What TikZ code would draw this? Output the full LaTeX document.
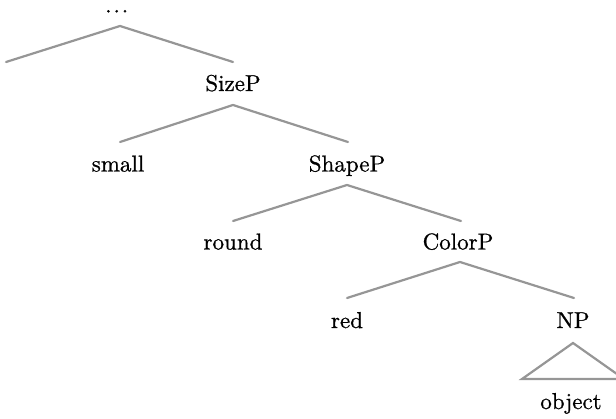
\documentclass[tikz,border=0pt]{standalone}
\usepackage{fontspec}
\setmainfont{lmroman10-regular.otf}[FakeBold=0.8]
\definecolor{branch}{RGB}{150,150,150}
\tikzset{
  lab/.style={anchor=base, inner sep=0pt, font=\fontsize{23}{28}\selectfont},
  edge/.style={draw=branch, line width=2.2pt, line cap=round, line join=miter}
}
\begin{document}
\begin{tikzpicture}[x=1pt,y=-1pt]
\useasboundingbox (0,0) rectangle (616,419);
% labels
\node[lab] (root) at (116.7,12.5) {.\kern1.9pt.\kern1.9pt.};
\node[lab] (sizeP) at (233,91) {SizeP};
\node[lab] (small) at (118,171.5) {small};
\node[lab] (shapeP) at (347,171.5) {ShapeP};
\node[lab] (round) at (233,249.5) {round};
\node[lab] (colorP) at (458,249.5) {ColorP};
\node[lab] (red) at (347,328) {red};
\node[lab] (NP) at (573,328) {NP};
\node[lab] (object) at (571,409) {object};
% branch points
\coordinate (r0) at (120,26);  \coordinate (r1) at (6,62);    \coordinate (r2) at (233,62);
\coordinate (s0) at (233,105); \coordinate (s1) at (120,142); \coordinate (s2) at (348,142);
\coordinate (h0) at (347,185); \coordinate (h1) at (233,221); \coordinate (h2) at (461,221);
\coordinate (c0) at (460,262); \coordinate (c1) at (347,298); \coordinate (c2) at (574,298);
\coordinate (n0) at (573,343); \coordinate (n1) at (522,379); \coordinate (n2) at (624,379);
% branches
\draw[edge] (r1) -- (r0) -- (r2);
\draw[edge] (s1) -- (s0) -- (s2);
\draw[edge] (h1) -- (h0) -- (h2);
\draw[edge] (c1) -- (c0) -- (c2);
\draw[edge] (n1) -- (n0) -- (n2) -- cycle;
\end{tikzpicture}
\end{document}
